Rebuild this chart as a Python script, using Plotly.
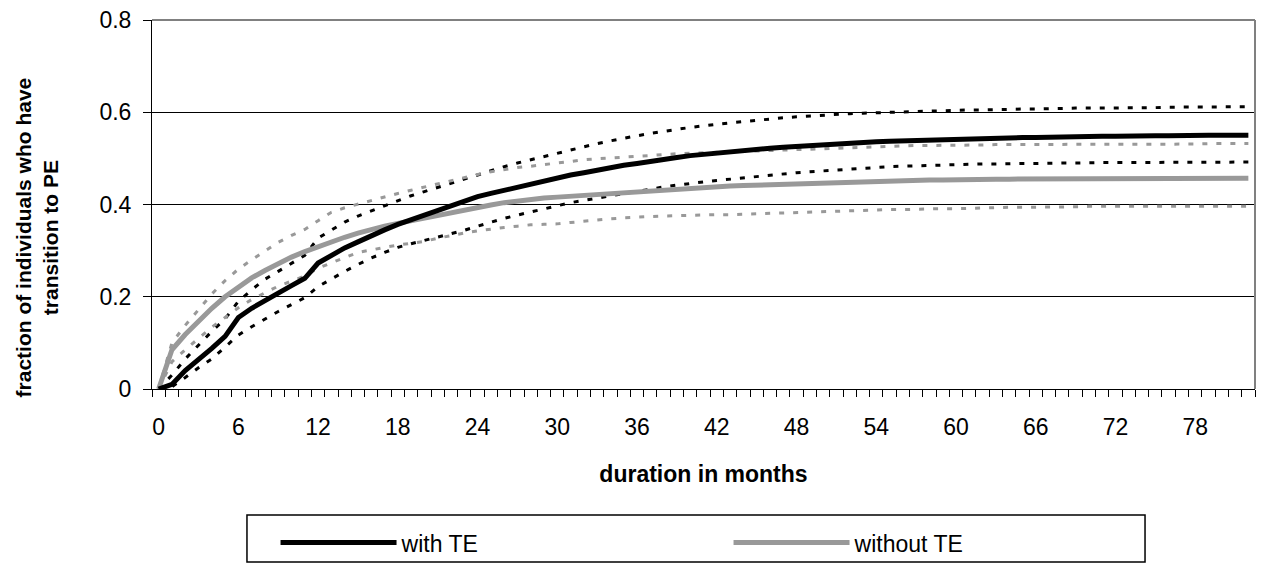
import plotly.graph_objects as go

months = list(range(83))
tick_months = list(range(0, 83, 6))

with_te = [0.0, 0.01, 0.04, 0.063, 0.088, 0.114, 0.155, 0.175, 0.193, 0.208,
           0.224, 0.24, 0.273, 0.291, 0.306, 0.319, 0.333, 0.345, 0.357, 0.367,
           0.377, 0.387, 0.397, 0.407, 0.417, 0.424, 0.431, 0.438, 0.445, 0.452,
           0.458, 0.464, 0.469, 0.475, 0.48, 0.485, 0.489, 0.494, 0.498, 0.502,
           0.506, 0.509, 0.512, 0.515, 0.518, 0.52, 0.522, 0.524, 0.526, 0.528,
           0.53, 0.532, 0.533, 0.534, 0.536, 0.537, 0.538, 0.539, 0.54, 0.541,
           0.542, 0.543, 0.543, 0.544, 0.544, 0.545, 0.545, 0.546, 0.546, 0.547,
           0.547, 0.548, 0.548, 0.549, 0.549, 0.549, 0.549, 0.55, 0.55, 0.55,
           0.55, 0.55, 0.55]

with_te_upper = [0.0, 0.03, 0.065, 0.096, 0.125, 0.152, 0.19, 0.215, 0.238, 0.255,
                 0.272, 0.29, 0.327, 0.345, 0.362, 0.375, 0.386, 0.398, 0.409, 0.419,
                 0.428, 0.437, 0.447, 0.456, 0.465, 0.474, 0.482, 0.49, 0.497, 0.504,
                 0.511, 0.519, 0.526, 0.532, 0.538, 0.544, 0.549, 0.554, 0.559, 0.563,
                 0.567, 0.571, 0.574, 0.577, 0.58, 0.583, 0.586, 0.588, 0.59, 0.592,
                 0.594, 0.596, 0.597, 0.598, 0.599, 0.6, 0.601, 0.602, 0.602, 0.603,
                 0.604, 0.605, 0.605, 0.606, 0.606, 0.607, 0.607, 0.608, 0.608, 0.609,
                 0.609, 0.609, 0.61, 0.61, 0.61, 0.61, 0.611, 0.611, 0.611, 0.611,
                 0.612, 0.612, 0.612]

with_te_lower = [0.0, 0.005, 0.025, 0.046, 0.065, 0.09, 0.117, 0.135, 0.152, 0.168,
                 0.183, 0.198, 0.222, 0.239, 0.255, 0.27, 0.284, 0.296, 0.307, 0.315,
                 0.322, 0.329, 0.336, 0.344, 0.353, 0.362, 0.37, 0.377, 0.384, 0.391,
                 0.398, 0.404, 0.409, 0.414, 0.419, 0.424, 0.429, 0.433, 0.438, 0.442,
                 0.446, 0.449, 0.452, 0.455, 0.458, 0.461, 0.464, 0.466, 0.469, 0.471,
                 0.473, 0.475, 0.477, 0.479, 0.48, 0.482, 0.483, 0.484, 0.485, 0.486,
                 0.486, 0.487, 0.488, 0.488, 0.489, 0.489, 0.489, 0.49, 0.49, 0.49,
                 0.491, 0.491, 0.491, 0.491, 0.491, 0.491, 0.491, 0.492, 0.492, 0.492,
                 0.492, 0.492, 0.492]

without_te = [0.0, 0.085, 0.118, 0.148, 0.175, 0.2, 0.222, 0.241, 0.257, 0.272,
              0.286, 0.298, 0.309, 0.319, 0.329, 0.338, 0.346, 0.353, 0.359, 0.365,
              0.371, 0.377, 0.383, 0.389, 0.394, 0.399, 0.404, 0.408, 0.411, 0.414,
              0.416, 0.418, 0.42, 0.422, 0.424, 0.426, 0.428, 0.43, 0.432, 0.434,
              0.436, 0.437, 0.438, 0.44, 0.441, 0.442, 0.443, 0.444, 0.445, 0.446,
              0.447, 0.448, 0.448, 0.449, 0.45, 0.451, 0.452, 0.452, 0.453, 0.453,
              0.454, 0.454, 0.454, 0.455, 0.455, 0.455, 0.455, 0.456, 0.456, 0.456,
              0.456, 0.456, 0.456, 0.457, 0.457, 0.457, 0.457, 0.457, 0.457, 0.457,
              0.457, 0.457, 0.457]

without_te_upper = [0.0, 0.1, 0.138, 0.172, 0.206, 0.235, 0.26, 0.28, 0.3, 0.318,
                    0.333, 0.346, 0.365, 0.383, 0.393, 0.401, 0.409, 0.416, 0.424, 0.431,
                    0.438, 0.445, 0.452, 0.459, 0.465, 0.471, 0.476, 0.48, 0.483, 0.487,
                    0.49, 0.493, 0.497, 0.499, 0.501, 0.503, 0.505, 0.507, 0.508, 0.51,
                    0.511, 0.512, 0.513, 0.514, 0.515, 0.516, 0.518, 0.519, 0.52, 0.521,
                    0.522, 0.523, 0.524, 0.525, 0.526, 0.527, 0.527, 0.528, 0.528, 0.528,
                    0.529, 0.529, 0.529, 0.53, 0.53, 0.53, 0.53, 0.53, 0.53, 0.53,
                    0.53, 0.53, 0.53, 0.531, 0.531, 0.531, 0.531, 0.531, 0.531, 0.532,
                    0.532, 0.532, 0.532]

without_te_lower = [0.0, 0.059, 0.085, 0.11, 0.134, 0.155, 0.176, 0.194, 0.209, 0.223,
                    0.234, 0.245, 0.262, 0.274, 0.285, 0.296, 0.302, 0.307, 0.312, 0.316,
                    0.32, 0.327, 0.333, 0.338, 0.343, 0.347, 0.35, 0.353, 0.356, 0.357,
                    0.358, 0.361, 0.364, 0.367, 0.369, 0.371, 0.373, 0.374, 0.375, 0.376,
                    0.377, 0.377, 0.378, 0.378, 0.379, 0.38, 0.381, 0.382, 0.383, 0.384,
                    0.385, 0.386, 0.387, 0.388, 0.388, 0.389, 0.389, 0.39, 0.39, 0.391,
                    0.391, 0.392, 0.393, 0.393, 0.394, 0.394, 0.394, 0.395, 0.395, 0.395,
                    0.396, 0.396, 0.396, 0.396, 0.396, 0.396, 0.396, 0.396, 0.396, 0.396,
                    0.396, 0.396, 0.396]

BLACK = "#000000"
GRAY = "#999999"
FONT = "Liberation Sans, Arial, sans-serif"
DOT = "5px,9px"
FS = 23

fig = go.Figure()
for vals, col in [(with_te_upper, BLACK), (with_te_lower, BLACK),
                  (without_te_upper, GRAY), (without_te_lower, GRAY)]:
    fig.add_trace(go.Scatter(x=months, y=vals, mode="lines", showlegend=False,
                             line=dict(color=col, width=3, dash=DOT),
                             hoverinfo="skip"))
fig.add_trace(go.Scatter(x=months, y=without_te, mode="lines", name="without TE",
                         line=dict(color=GRAY, width=5)))
fig.add_trace(go.Scatter(x=months, y=with_te, mode="lines", name="with TE",
                         line=dict(color=BLACK, width=5)))

fig.update_layout(
    width=1267, height=563,
    margin=dict(l=144, r=20, t=12, b=182, autoexpand=False),
    paper_bgcolor="white", plot_bgcolor="white",
    font=dict(family=FONT, size=FS, color="black"),
    showlegend=True,
    legend=dict(orientation="h", x=0.112, y=-0.358, xanchor="left", yanchor="top",
                traceorder="reversed", entrywidth=322, entrywidthmode="pixels",
                itemwidth=116, bgcolor="rgba(0,0,0,0)",
                font=dict(family=FONT, size=FS, color="black")),
    xaxis=dict(range=[-0.5, 82.5], tickmode="array", tickvals=tick_months,
               ticks="", showgrid=False, zeroline=False, automargin=False,
               showline=True, linecolor="black", linewidth=1,
               ticklabelstandoff=17,
               minor=dict(tick0=-0.5, dtick=1, ticks="outside", ticklen=7,
                          tickcolor="black", tickwidth=1, showgrid=False),
               title=dict(text="<b>duration in months</b>", standoff=27,
                          font=dict(family=FONT, size=FS))),
    yaxis=dict(range=[0, 0.8], dtick=0.2, ticks="outside", ticklen=8,
               tickcolor="black", showgrid=True, gridcolor="black", gridwidth=1,
               zeroline=False, showline=True, linecolor="black", linewidth=1,
               ticklabelstandoff=7, automargin=False, ticklabeloverflow="allow"),
    annotations=[
        dict(text="<b>fraction of individuals who have<br>transition to PE</b>",
             xref="paper", yref="paper", x=-0.1045, y=0.41, xanchor="center",
             yanchor="middle", textangle=-90, showarrow=False,
             font=dict(family=FONT, size=21, color="black")),
    ],
    shapes=[
        dict(type="line", xref="paper", yref="paper", x0=0, x1=1, y0=1, y1=1,
             line=dict(color="#808080", width=2)),
        dict(type="line", xref="paper", yref="paper", x0=1, x1=1, y0=0, y1=1,
             line=dict(color="#808080", width=2)),
        dict(type="rect", xref="paper", yref="paper", x0=0.0861, x1=0.9003,
             y0=-0.4688, y1=-0.3415, line=dict(color="black", width=1.5),
             fillcolor="rgba(0,0,0,0)"),
    ],
)

fig.write_html("out.html")
